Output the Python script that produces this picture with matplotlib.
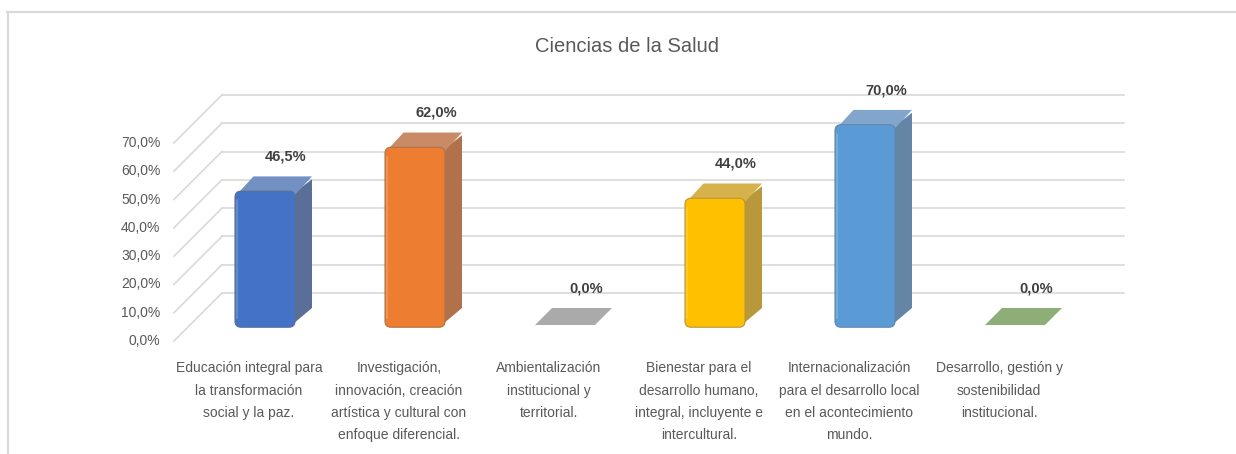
import matplotlib
matplotlib.use("Agg")
from matplotlib import pyplot as plt
from matplotlib import font_manager
from matplotlib.patches import FancyBboxPatch, Polygon
from matplotlib.lines import Line2D

categories = [
    "Educación integral para\nla transformación\nsocial y la paz.",
    "Investigación,\ninnovación, creación\nartística y cultural con\nenfoque diferencial.",
    "Ambientalización\ninstitucional y\nterritorial.",
    "Bienestar para el\ndesarrollo humano,\nintegral, incluyente e\nintercultural.",
    "Internacionalización\npara el desarrollo local\nen el acontecimiento\nmundo.",
    "Desarrollo, gestión y\nsostenibilidad\ninstitucional.",
]
values = [46.5, 62.0, 0.0, 44.0, 70.0, 0.0]
ticks = [0, 10, 20, 30, 40, 50, 60, 70]

front_colors = ["#4472C4", "#ED7D31", "#A5A5A5", "#FFC000", "#5B9BD5", "#70AD47"]
side_colors = ["#5A6F98", "#B0724A", "#8E8E8E", "#B8983A", "#6585A7", "#6E8C5C"]
top_colors = ["#7390C2", "#C98A66", "#AAAAAA", "#D6B24A", "#82A5CC", "#8DAE77"]

installed = {f.name for f in font_manager.fontManager.ttflist}
FONT = [f for f in ["Liberation Sans Narrow", "Liberation Sans", "DejaVu Sans"] if f in installed]
narrow = FONT[0] == "Liberation Sans Narrow"
s = 11 if narrow else 10
GRAY = "#595959"
GRID = "#D9D9D9"

fig = plt.figure(figsize=(12.36, 4.54), dpi=100)
ax = fig.add_axes([115 / 1236, (454 - 381.6) / 454, 1050 / 1236, 311.3 / 454])
ax.set_xlim(-1, 6)
ax.set_ylim(-20, 90)
ax.axis("off")

# pixel -> data helpers (150 px per category, 2.83 px per percent)
px_x = 1 / 150
px_y = 1 / 2.83
depth_x, depth_y = 17 * px_x, 17 * px_y      # bar depth
back_x, back_y = 32 * px_x, 32 * px_y        # back wall
front_x, front_y = -16 * px_x, -16 * px_y    # floor front edge

wall_left = -0.287
wall_right = 5.727
half = 0.2

# walls: back gridlines + diagonals on the left side
for t in ticks:
    ax.plot([wall_left, wall_right], [t + back_y, t + back_y], color=GRID, lw=1.2, zorder=1)
    ax.plot([wall_left - (back_x - front_x), wall_left], [t + front_y, t + back_y],
            color=GRID, lw=1.2, zorder=1)
    ax.text(wall_left - (back_x - front_x) - 0.09, t + front_y, f"{t:.1f}%".replace(".", ","),
            ha="right", va="center", fontsize=s, color=GRAY, family=FONT)

for i, (v, lab) in enumerate(zip(values, categories)):
    x0, x1 = i - half, i + half
    if v > 0:
        side = Polygon([(x1 - 0.01, 0.5), (x1 + depth_x, depth_y), (x1 + depth_x, v + depth_y - 1),
                        (x1 - 0.01, v)], closed=True, fc=side_colors[i], ec="none", zorder=3)
        ax.add_patch(side)
        top = Polygon([(x0 + 0.01, v - 0.5), (x1, v - 0.5), (x1 + depth_x, v + depth_y),
                       (x0 + depth_x + 0.01, v + depth_y)], closed=True,
                      fc=top_colors[i], ec="none", zorder=3)
        ax.add_patch(top)
        face = FancyBboxPatch((x0 + 0.03, 0.8), 2 * half - 0.06, v - 1.6,
                              boxstyle="round,pad=0.03,rounding_size=0.04",
                              mutation_aspect=150 / 2.83,
                              fc=front_colors[i], ec=side_colors[i], lw=0.8, zorder=4)
        ax.add_patch(face)
        # soft bevel highlight along the left edge
        ax.plot([x0 + 0.012, x0 + 0.012], [2.5, v - 2.5], color="white", alpha=0.2, lw=1.2, zorder=5)
    else:
        top = Polygon([(x0, v), (x1, v), (x1 + depth_x, v + depth_y), (x0 + depth_x, v + depth_y)],
                      closed=True, fc=top_colors[i], ec="none", zorder=3)
        ax.add_patch(top)

    ax.text(i + 0.14, v + 13, f"{v:.1f}%".replace(".", ","), ha="center", va="center",
            fontsize=s + 0.5, fontweight="bold", color="#404040", family=FONT)
    ax.text(i + front_x, -12.8, lab, ha="center", va="top", fontsize=s, color=GRAY,
            family=FONT, linespacing=1.76)

fig.text(627 / 1236, 1 - 47 / 454, "Ciencias de la Salud", ha="center", va="center",
         fontsize=16 if narrow else 14.5, color=GRAY, family=FONT)

# chart frame (left and top border)
fig.add_artist(Line2D([7.5 / 1236, 7.5 / 1236], [0, 1 - 12 / 454], color=GRID, lw=1.5))
fig.add_artist(Line2D([7 / 1236, 1], [1 - 12 / 454, 1 - 12 / 454], color=GRID, lw=1.5))

fig.savefig("out.png", dpi=100)
